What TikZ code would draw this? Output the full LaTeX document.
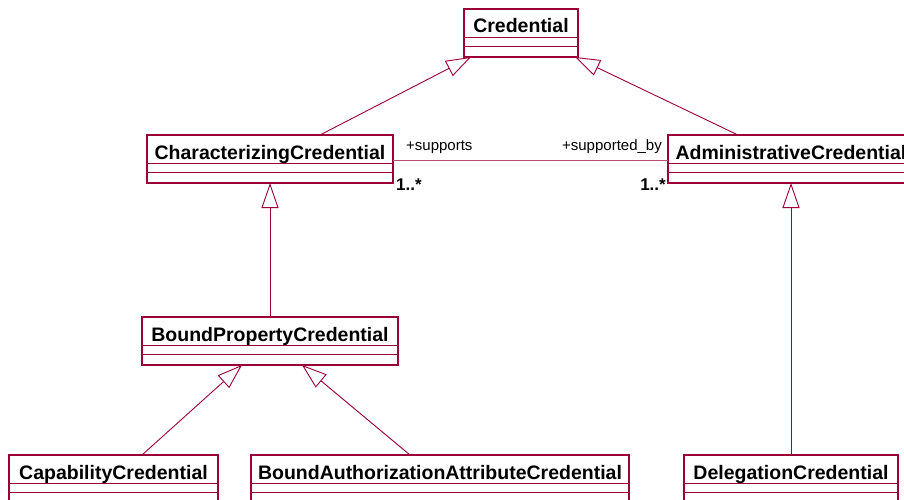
\documentclass[tikz,border=0pt]{standalone}
\usepackage{fontspec}
\setmainfont{Liberation Sans}
\usetikzlibrary{calc,arrows.meta}
\definecolor{umlred}{RGB}{155,0,55}
\tikzset{
  x=1pt,y=-1pt,
  cls/.style={draw=umlred,line width=1.1pt,fill=white,anchor=north west,minimum height=48pt,inner sep=0pt,outer sep=0pt},
  ttl/.style={font=\fontsize{19.5}{19.5}\selectfont\bfseries,anchor=base,inner sep=0pt},
  gen/.style={draw=umlred,line width=0.9pt,-{Triangle[open,length=25pt,width=17pt,fill=white]}},
  assoc/.style={draw=umlred!70,line width=0.9pt},
  rolel/.style={font=\fontsize{15}{15}\selectfont,inner sep=0pt},
  mult/.style={font=\fontsize{17}{17}\selectfont\bfseries,inner sep=0pt}
}
\newcommand{\umlclass}[5]{% name, x, y, width, text
  \node[cls,minimum width=#4pt] (#1) at (#2,#3) {};
  \node[ttl] (#1t) at ($(#1.north)+(0,24)$) {#5};
  \draw[umlred,line width=0.9pt] ($(#1.north west)+(0,28)$) -- ($(#1.north east)+(0,28)$);
  \draw[umlred,line width=0.9pt] ($(#1.north west)+(0,37)$) -- ($(#1.north east)+(0,37)$);
}
\begin{document}
\begin{tikzpicture}
\useasboundingbox (0,0) rectangle (904,500);
\clip (0,0) rectangle (904,500);
\umlclass{cred}{464}{9}{114}{Credential}
\umlclass{charc}{147}{135}{246}{CharacterizingCredential}
\umlclass{admin}{668}{135}{246}{AdministrativeCredential}
\umlclass{bprop}{142}{317}{256}{BoundPropertyCredential}
\umlclass{capab}{9}{455}{209}{CapabilityCredential}
\umlclass{bauth}{251}{455}{378}{BoundAuthorizationAttributeCredential}
\umlclass{deleg}{684}{455}{214}{DelegationCredential}
% generalizations
\draw[gen] ($(charc.north west)+(173,0)$) -- ($(cred.south west)+(7,0)$);
\draw[gen] ($(admin.north west)+(70,0)$) -- ($(cred.south east)+(-3,0)$);
\draw[gen] ($(bprop.north west)+(128,0)$) -- ($(charc.south west)+(123,0)$);
\draw[gen] ($(deleg.north west)+(107,0)$) -- ($(admin.south west)+(123,0)$);
\draw[gen] ($(capab.north west)+(133,0)$) -- ($(bprop.south west)+(100,0)$);
\draw[gen] ($(bauth.north west)+(159,0)$) -- ($(bprop.south west)+(160,0)$);
% association
\draw[assoc] ($(charc.east)+(0,1)$) -- ($(admin.west)+(0,1)$);
\node[rolel,anchor=base west] (rs) at ($(charc.north east)+(13,15)$) {+supports};
\node[rolel,anchor=base east] (rsb) at ($(admin.north west)+(-6,15)$) {+supported\_by};
\node[mult,anchor=base west] (m1) at ($(charc.south east)+(3,7)$) {1..*};
\node[mult,anchor=base east] (m2) at ($(admin.south west)+(-2,7)$) {1..*};
\end{tikzpicture}
\end{document}
